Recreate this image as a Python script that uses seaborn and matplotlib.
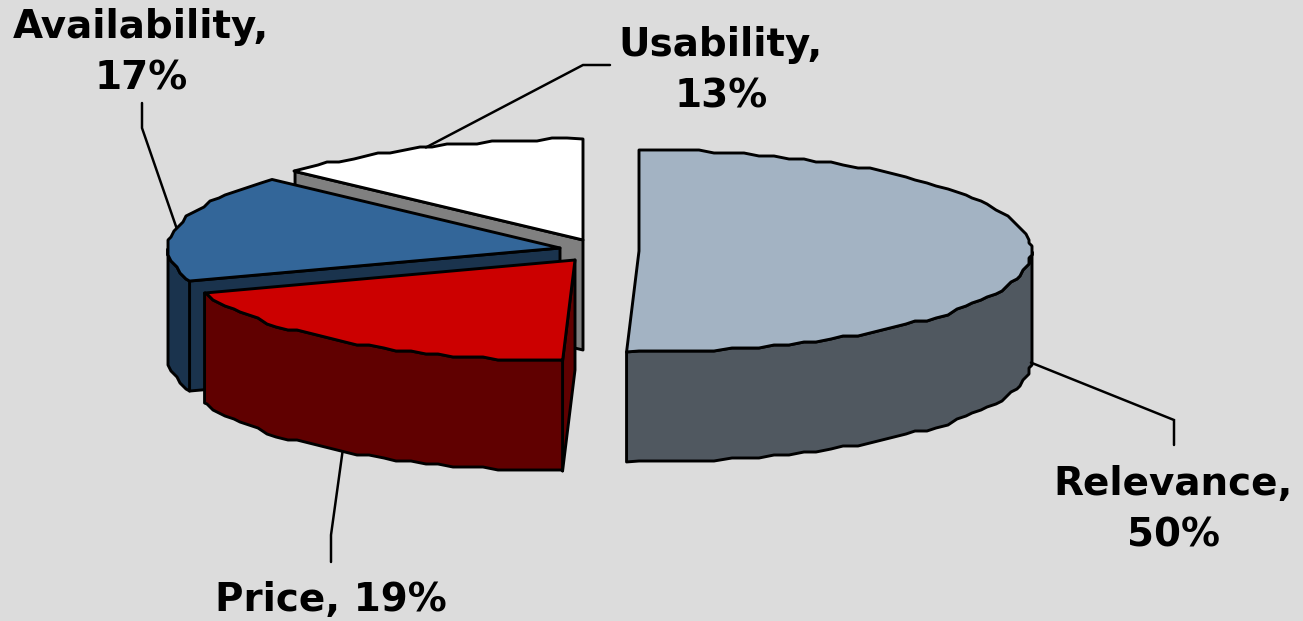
import numpy as np
import matplotlib
matplotlib.use("Agg")
import matplotlib.pyplot as plt
import seaborn as sns

categories = ["Relevance", "Price", "Availability", "Usability"]
shares = [50, 19, 17, 13]

top_colors = ["#A3B3C3", "#CC0000", "#336699", "#FFFFFF"]
side_colors = ["#505860", "#600000", "#1A334D", "#808080"]

# where each exploded slice has its tip, in pixels of the 1303x621 picture
tips = [(639, 251), (575, 260), (560, 248), (583, 240)]
# leader line elbow, leader line end, label centre
leaders = [((1174, 420), (1174, 445), (1173, 510)),
           ((331, 535), (331, 562), (331, 600)),
           ((142, 128), (142, 103), (141, 53)),
           ((583, 65), (610, 65), (721, 71))]

RX, RY, DEPTH = 392, 101, 110
STEP = 3.0  # the source is a blown up low-res image, edges are stepped
GRID = 2.25
BG = "#DCDCDC"
LW = 2.1


def rim(tip, t):
    # t in degrees, clockwise from the back of the pie
    r = np.radians(t)
    return tip[0] + RX * np.sin(r), tip[1] - RY * np.cos(r)


def arc(tip, t0, t1):
    inside = np.arange(np.ceil(t0 / GRID), np.floor(t1 / GRID) + 1) * GRID
    t = np.unique(np.r_[t0, inside, t1])
    x, y = rim(tip, t)
    # corners of a slice stay exact, everything on the grid gets stepped
    stepped = np.isclose(t % GRID, 0) & ~np.isclose(t % 360, 0)
    x[stepped] = np.round(x[stepped] / STEP) * STEP
    y[stepped] = np.round(y[stepped] / STEP) * STEP
    return x, y


def fill(ax, x, y, color):
    ax.fill(x, y, facecolor=color, edgecolor="black", linewidth=LW, joinstyle="round")


def draw_slice(ax, tip, t0, t1, top, side, has_cut_face):
    if has_cut_face:
        ex, ey = rim(tip, t0)
        fill(ax, [tip[0], ex, ex, tip[0]], [tip[1], ey, ey + DEPTH, tip[1] + DEPTH], side)

    # outer wall, only the part in front
    a, b = max(t0, 90), min(t1, 270)
    if a < b:
        x, y = arc(tip, a, b)
        fill(ax, np.r_[x, x[::-1]], np.r_[y, (y + DEPTH)[::-1]], side)

    x, y = arc(tip, t0, t1)
    fill(ax, np.r_[tip[0], x], np.r_[tip[1], y], top)


def main():
    sns.set_theme(style="white", rc={"figure.facecolor": BG, "axes.facecolor": BG})
    plt.rcParams["font.family"] = ["DejaVu Sans"]

    fig, ax = plt.subplots(figsize=(13.03, 6.21), dpi=100)
    fig.subplots_adjust(0, 0, 1, 1)
    ax.set_xlim(0, 1303)
    ax.set_ylim(621, 0)
    sns.despine(ax=ax, left=True, bottom=True)
    ax.set_axis_off()

    vals = np.array(shares, dtype=float)
    edges = np.r_[0, np.cumsum(vals) / vals.sum() * 360]

    # back to front so the nearer slices cover the others
    for i in [3, 2, 1, 0]:
        draw_slice(ax, tips[i], edges[i], edges[i + 1], top_colors[i], side_colors[i], i > 0)

    for i, name in enumerate(categories):
        mid = (edges[i] + edges[i + 1]) / 2
        sx, sy = rim(tips[i], mid)
        if 90 <= mid <= 270:
            sy += DEPTH
        elbow, end, pos = leaders[i]
        ax.plot([sx, elbow[0], end[0]], [sy, elbow[1], end[1]], color="black", lw=LW * 0.85, zorder=1,
                solid_joinstyle="miter")
        sep = " " if name == "Price" else "\n"
        ax.text(pos[0], pos[1], f"{name},{sep}{shares[i]}%", ha="center", va="center",
                fontsize=28, fontweight="bold", color="black", linespacing=1.45)

    fig.savefig("out.png", dpi=100, facecolor=BG)


if __name__ == "__main__":
    main()
